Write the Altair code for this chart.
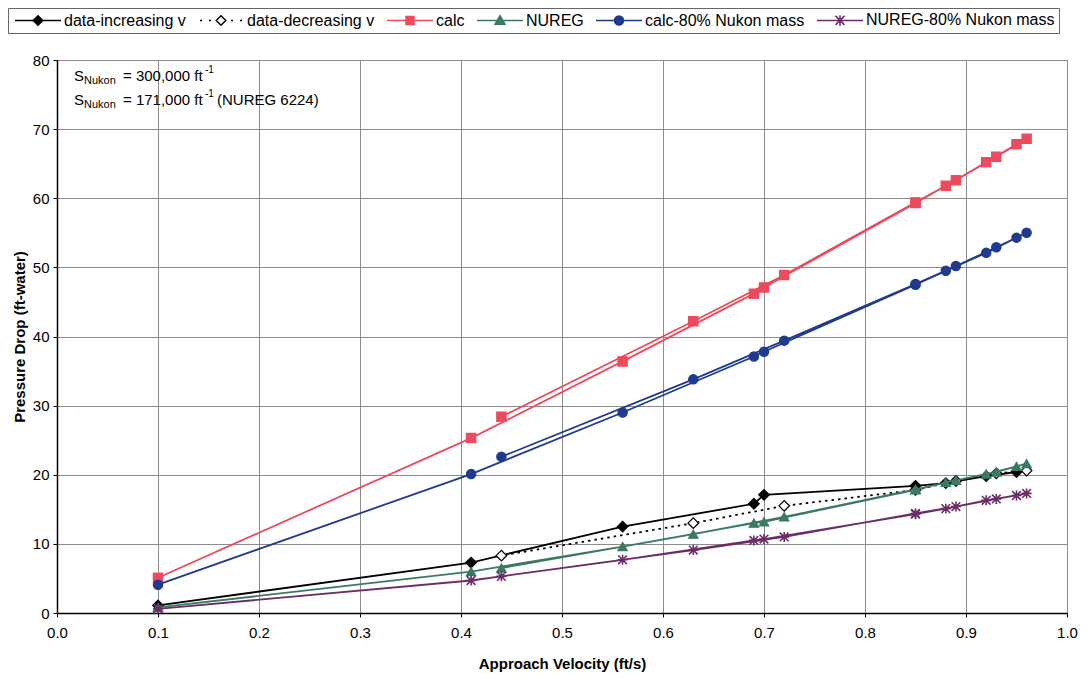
import altair as alt
import pandas as pd

# ---------------- data ----------------
series_names = ["data-increasing v", "data-decreasing v", "calc", "NUREG",
                 "calc-80% Nukon mass", "NUREG-80% Nukon mass"]

# run sequence of approach velocities (increasing, then decreasing)
run_v = [0.10, 0.41, 0.56, 0.69, 0.70, 0.85, 0.88, 0.92, 0.95,
         0.96, 0.93, 0.89, 0.85, 0.72, 0.63, 0.44]
calc = [5.1, 25.3, 36.4, 46.2, 47.1, 59.3, 61.8, 65.2, 67.8,
        68.6, 66.0, 62.6, 59.4, 48.9, 42.2, 28.4]
calc80 = [4.1, 20.1, 29.0, 37.1, 37.8, 47.5, 49.5, 52.1, 54.3,
          55.0, 52.9, 50.2, 47.6, 39.4, 33.8, 22.6]
nureg = [0.8, 6.0, 9.6, 13.0, 13.2, 17.8, 18.9, 20.1, 21.2,
         21.6, 20.4, 19.2, 17.9, 13.9, 11.4, 6.5]
nureg80 = [0.6, 4.7, 7.7, 10.5, 10.7, 14.3, 15.1, 16.3, 17.0,
           17.3, 16.5, 15.4, 14.4, 11.0, 9.1, 5.3]

data_inc_v = [0.10, 0.41, 0.56, 0.69, 0.70, 0.85, 0.88, 0.92, 0.95]
data_inc = [1.1, 7.3, 12.5, 15.8, 17.1, 18.4, 18.8, 19.8, 20.4]
data_dec_v = [0.96, 0.93, 0.89, 0.85, 0.72, 0.63, 0.44]
data_dec = [20.6, 20.2, 19.1, 17.8, 15.5, 13.0, 8.3]

x_ticks = [0.0, 0.1, 0.2, 0.3, 0.4, 0.5, 0.6, 0.7, 0.8, 0.9, 1.0]
y_ticks = [0, 10, 20, 30, 40, 50, 60, 70, 80]

ann_line1 = ["S", "Nukon", "= 300,000 ft", "-1"]
ann_line2 = ["S", "Nukon", "= 171,000 ft", "-1", "(NUREG 6224)"]

# ---------------- styles ----------------
FONT = "Liberation Sans"
colors = ["#000000", "#000000", "#EC4B5E", "#3B7A62", "#1F3A8E", "#6B2C68"]
fills = ["#000000", "#ffffff", "#EC4B5E", "#3B7A62", "#1F3A8E", "#6B2C68"]
ASTER = "M-1,-1L1,1M-1,1L1,-1M0,-1.15L0,1.15M-1.15,0L1.15,0"
shapes = ["diamond", "diamond", "square", "triangle-up", "circle", ASTER]
sizes = [110, 110, 85, 85, 85, 75]
dashes = [None, [2.5, 4], None, None, None, None]

legend_paths = [
    "M-1,0L8.2,0M3.6,-0.95L4.55,0L3.6,0.95L2.65,0Z",
    "M-0.6,0L-0.2,0M1.2,0L1.6,0M3.6,-0.95L4.55,0L3.6,0.95L2.65,0ZM5.6,0L6.0,0M7.4,0L7.8,0",
    "M-1,0L8.2,0M2.8,-0.8L4.4,-0.8L4.4,0.8L2.8,0.8Z",
    "M-1,0L8.2,0M3.6,-0.95L4.6,0.75L2.6,0.75Z",
    "M-1,0L8.2,0M2.7,0A0.9,0.9 0 1,1 4.5,0A0.9,0.9 0 1,1 2.7,0Z",
    "M-1,0L8.2,0M2.7,-0.9L4.5,0.9M2.7,0.9L4.5,-0.9M3.6,-1.05L3.6,1.05",
]

# ---------------- table ----------------
series_data = [
    (data_inc_v, data_inc),
    (data_dec_v, data_dec),
    (run_v, calc),
    (run_v, nureg),
    (run_v, calc80),
    (run_v, nureg80),
]
rows = []
for name, (xs, ys) in zip(series_names, series_data):
    for i, (xv, yv) in enumerate(zip(xs, ys)):
        rows.append({"series": name, "v": xv, "dp": yv, "idx": i})
df = pd.DataFrame(rows)

x_enc = alt.X("v:Q", scale=alt.Scale(domain=[0, 1], nice=False),
              axis=alt.Axis(values=x_ticks, format=".1f", title="Approach Velocity (ft/s)",
                            labelPadding=8, titlePadding=16, labelFlush=False))
y_enc = alt.Y("dp:Q", scale=alt.Scale(domain=[0, 80], nice=False),
              axis=alt.Axis(values=y_ticks, title="Pressure Drop (ft-water)",
                            labelPadding=4, titlePadding=5, labelFlush=False))

layers = []
for k, name in enumerate(series_names):
    sub = df[df["series"] == name]
    lkw = dict(color=colors[k], strokeWidth=1.8)
    if dashes[k]:
        lkw["strokeDash"] = dashes[k]
    layers.append(alt.Chart(sub).mark_line(**lkw).encode(x=x_enc, y=y_enc, order="idx:Q"))
    if shapes[k] == ASTER:
        pkw = dict(filled=False, stroke=colors[k], strokeWidth=1.6)
    else:
        pkw = dict(filled=True, fill=fills[k], stroke=colors[k], strokeWidth=1.3)
    layers.append(alt.Chart(sub).mark_point(shape=shapes[k], size=sizes[k], opacity=1, **pkw)
                  .encode(x=x_enc, y=y_enc))

leg = alt.Legend(title=None, orient="none", legendX=-49, legendY=-52, direction="horizontal",
                 columns=6, symbolSize=100, symbolStrokeWidth=1.5, symbolOpacity=1,
                 labelOffset=36, labelFontSize=16, labelFont=FONT, labelColor="#000",
                 labelLimit=400, columnPadding=9, padding=4, strokeColor="#666",
                 fillColor="#ffffff")
legend_layer = alt.Chart(df).mark_point(opacity=0).encode(
    x=x_enc, y=y_enc,
    shape=alt.Shape("series:N", scale=alt.Scale(domain=series_names, range=legend_paths), legend=leg),
    stroke=alt.Stroke("series:N", scale=alt.Scale(domain=series_names, range=colors), legend=leg),
    fill=alt.Fill("series:N", scale=alt.Scale(domain=series_names, range=fills), legend=leg),
)
layers.append(legend_layer)

# annotation (S_Nukon lines) with sub/superscripts
ann_df = pd.DataFrame({"a": [0]})
def txt(t, x, y, size):
    return alt.Chart(ann_df).mark_text(text=t, align="left", baseline="alphabetic",
                                       fontSize=size, font=FONT, color="#000").encode(
        x=alt.value(x), y=alt.value(y))

layers += [
    txt(ann_line1[0], 17, 21, 15), txt(ann_line1[1], 27, 24, 11),
    txt(ann_line1[2], 66, 21, 15), txt(ann_line1[3], 148, 13, 10),
    txt(ann_line2[0], 17, 45, 15), txt(ann_line2[1], 27, 48, 11),
    txt(ann_line2[2], 66, 45, 15), txt(ann_line2[3], 148, 37, 10),
    txt(ann_line2[4], 160, 45, 15),
]

chart = alt.layer(*layers).properties(
    width=1010, height=553,
    autosize=alt.AutoSizeParams(type="none"),
    padding={"left": 49, "top": 52, "right": 17, "bottom": 59},
).configure_view(stroke="#888888", strokeWidth=1).configure_axis(
    labelFont=FONT, titleFont=FONT, labelFontSize=15, titleFontSize=15,
    titleFontWeight="bold", labelColor="#000", titleColor="#000",
    gridColor="#8c8c8c", gridWidth=1, domainColor="#000", domainWidth=1.5,
    tickColor="#000", tickSize=4,
)

chart.save("out.html", embed_options={"renderer": "svg", "actions": False})
